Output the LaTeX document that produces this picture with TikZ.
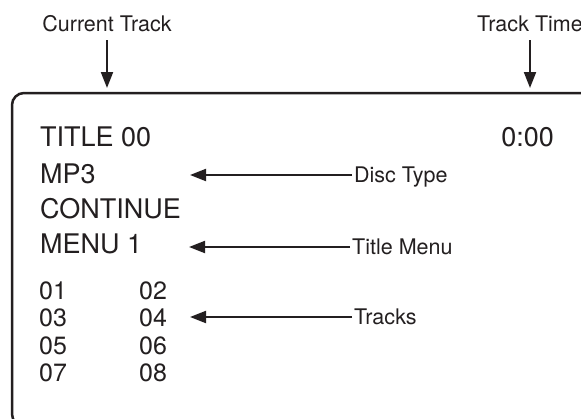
\documentclass[tikz,border=0pt]{standalone}
\usepackage{fontspec}
\setmainfont{TeX Gyre Heros}
\usetikzlibrary{arrows.meta}
\definecolor{ink}{RGB}{35,31,32}
\tikzset{
  arr/.style={draw=ink, line width=2pt, -{Triangle[length=16pt,width=12pt]}},
  toplabel/.style={font=\fontsize{21.5}{24}\selectfont, text=ink, inner sep=0pt, text depth=0pt, anchor=base},
  sidelabel/.style={font=\fontsize{21.5}{24}\selectfont, text=ink, inner ysep=0pt, inner xsep=2pt, text height=15.4pt, text depth=0pt, anchor=west},
  screen/.style={font=\fontsize{27}{30}\selectfont, text=ink, inner sep=0pt, anchor=base west},
  track/.style={font=\fontsize{25}{28}\selectfont, text=ink, inner sep=0pt, anchor=base west},
  panel/.style={draw=ink, line width=2.5pt, rounded corners=12pt}
}
\begin{document}
\begin{tikzpicture}[x=1pt,y=-1pt]
\useasboundingbox (0,0) rectangle (581,418);
\clip (0,0) rectangle (581,418);
% panel
\draw[panel] (12,93) rectangle (640,426);
% top labels
\node[toplabel] (cur) at (107,31) {Current Track};
\node[toplabel] (ttime) at (530,31) {Track Time};
\coordinate (curTip) at (107,88);
\coordinate (timeTip) at (530,88);
\draw[arr, shorten <=9pt] (cur.south) -- (curTip);
\draw[arr, shorten <=9pt] (ttime.south) -- (timeTip);
% screen text
\node[screen] (title) at (40,146) {TITLE 00};
\node[screen, anchor=base east] (clock) at (554,146) {0:00};
\node[screen] (mp3) at (40,183) {MP3};
\node[screen] (cont) at (40,218) {CONTINUE};
\node[screen] (menu) at (40,253) {MENU 1};
\node[track] (t01) at (39,299) {01};
\node[track] (t02) at (139,299) {02};
\node[track] (t03) at (39,326.5) {03};
\node[track] (t04) at (139,326.5) {04};
\node[track] (t05) at (39,354) {05};
\node[track] (t06) at (139,354) {06};
\node[track] (t07) at (39,381.5) {07};
\node[track] (t08) at (139,381.5) {08};
% side labels
\node[sidelabel] (disc) at (352,175) {Disc Type};
\node[sidelabel] (tmenu) at (350,247) {Title Menu};
\node[sidelabel] (tracks) at (352,317) {Tracks};
\coordinate (discTip) at (190,175);
\coordinate (menuTip) at (189,247);
\coordinate (tracksTip) at (190,317);
\draw[arr] (disc.west) -- (discTip);
\draw[arr] (tmenu.west) -- (menuTip);
\draw[arr] (tracks.west) -- (tracksTip);
\end{tikzpicture}
\end{document}
